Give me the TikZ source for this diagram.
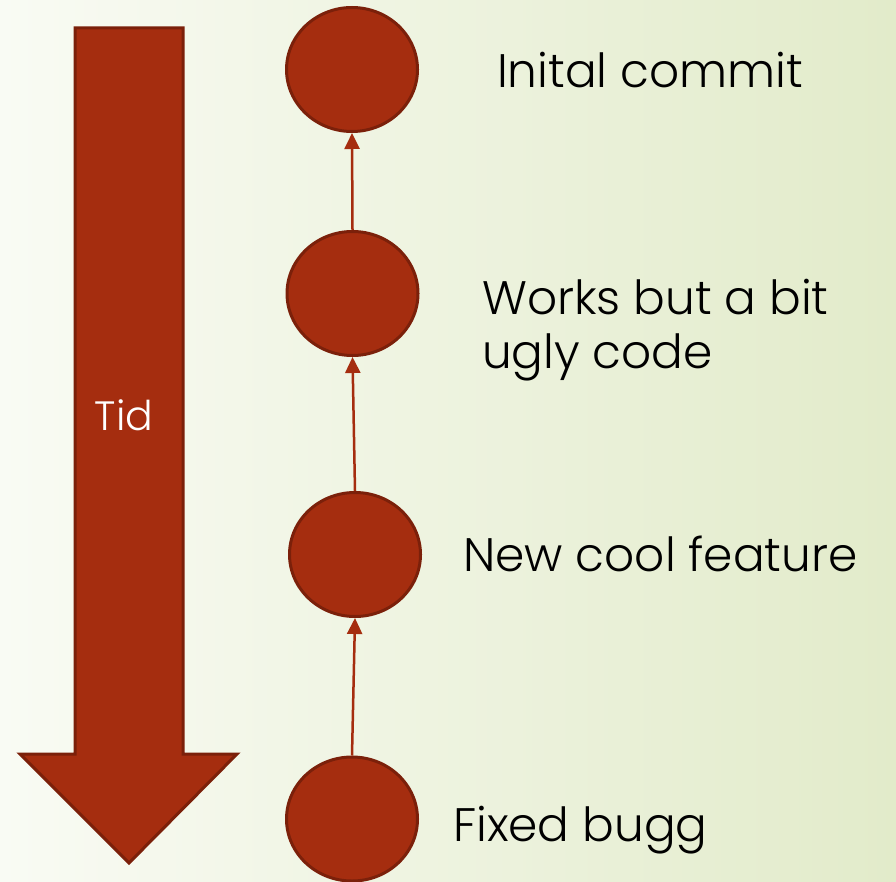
\documentclass[tikz,border=0pt]{standalone}
\usepackage{fontspec}
\setmainfont{Poppins}[UprightFont={* Light}]
\usetikzlibrary{shapes.geometric,arrows.meta}
\definecolor{rust}{HTML}{A52D0F}
\definecolor{rustedge}{HTML}{7B200A}
\definecolor{bgleft}{HTML}{F9FBF4}
\definecolor{bgright}{HTML}{E2EBCA}
\tikzset{
  commit/.style={ellipse, fill=rust, draw=rustedge, line width=3pt,
    minimum width=131pt, minimum height=124pt, inner sep=0pt},
  parentlink/.style={draw=rust, line width=2.5pt,
    -{Triangle[width=15pt,length=16pt]}},
  label/.style={anchor=base west, inner sep=0pt, text=black,
    font=\fontsize{47}{56}\selectfont},
}
\begin{document}
\begin{tikzpicture}[x=1pt,y=-1pt]
  % background
  \shade[left color=bgleft, right color=bgright] (0,0) rectangle (896,882);
  \useasboundingbox (0,0) rectangle (896,882);

  % time arrow
  \filldraw[fill=rust, draw=rustedge, line width=3pt, line join=miter]
    (75,28) -- (183,28) -- (183,754) -- (237,754) -- (129,863)
    -- (20,754) -- (75,754) -- cycle;
  \node[text=white, font=\fontsize{41}{48}\selectfont, anchor=base]
    (tid) at (124,430) {Tid};

  % commits
  \node[commit] (c1) at (352,69.5) {};
  \node[commit] (c2) at (352.5,293.5) {};
  \node[commit] (c3) at (355,554.5) {};
  \node[commit] (c4) at (352,819) {};

  \draw[parentlink] (c2.north) -- (c1.south);
  \draw[parentlink] (c3.north) -- (c2.south);
  \draw[parentlink] (c4.north) -- (c3.south);

  % commit messages
  \node[label] (m1) at (497,88) {Inital commit};
  \node[label] (m2a) at (482,315) {Works but a bit};
  \node[label] (m2b) at (482,368) {ugly code};
  \node[label] (m3) at (463,571) {New cool feature};
  \node[label] (m4) at (453,841) {Fixed bugg};
\end{tikzpicture}
\end{document}
